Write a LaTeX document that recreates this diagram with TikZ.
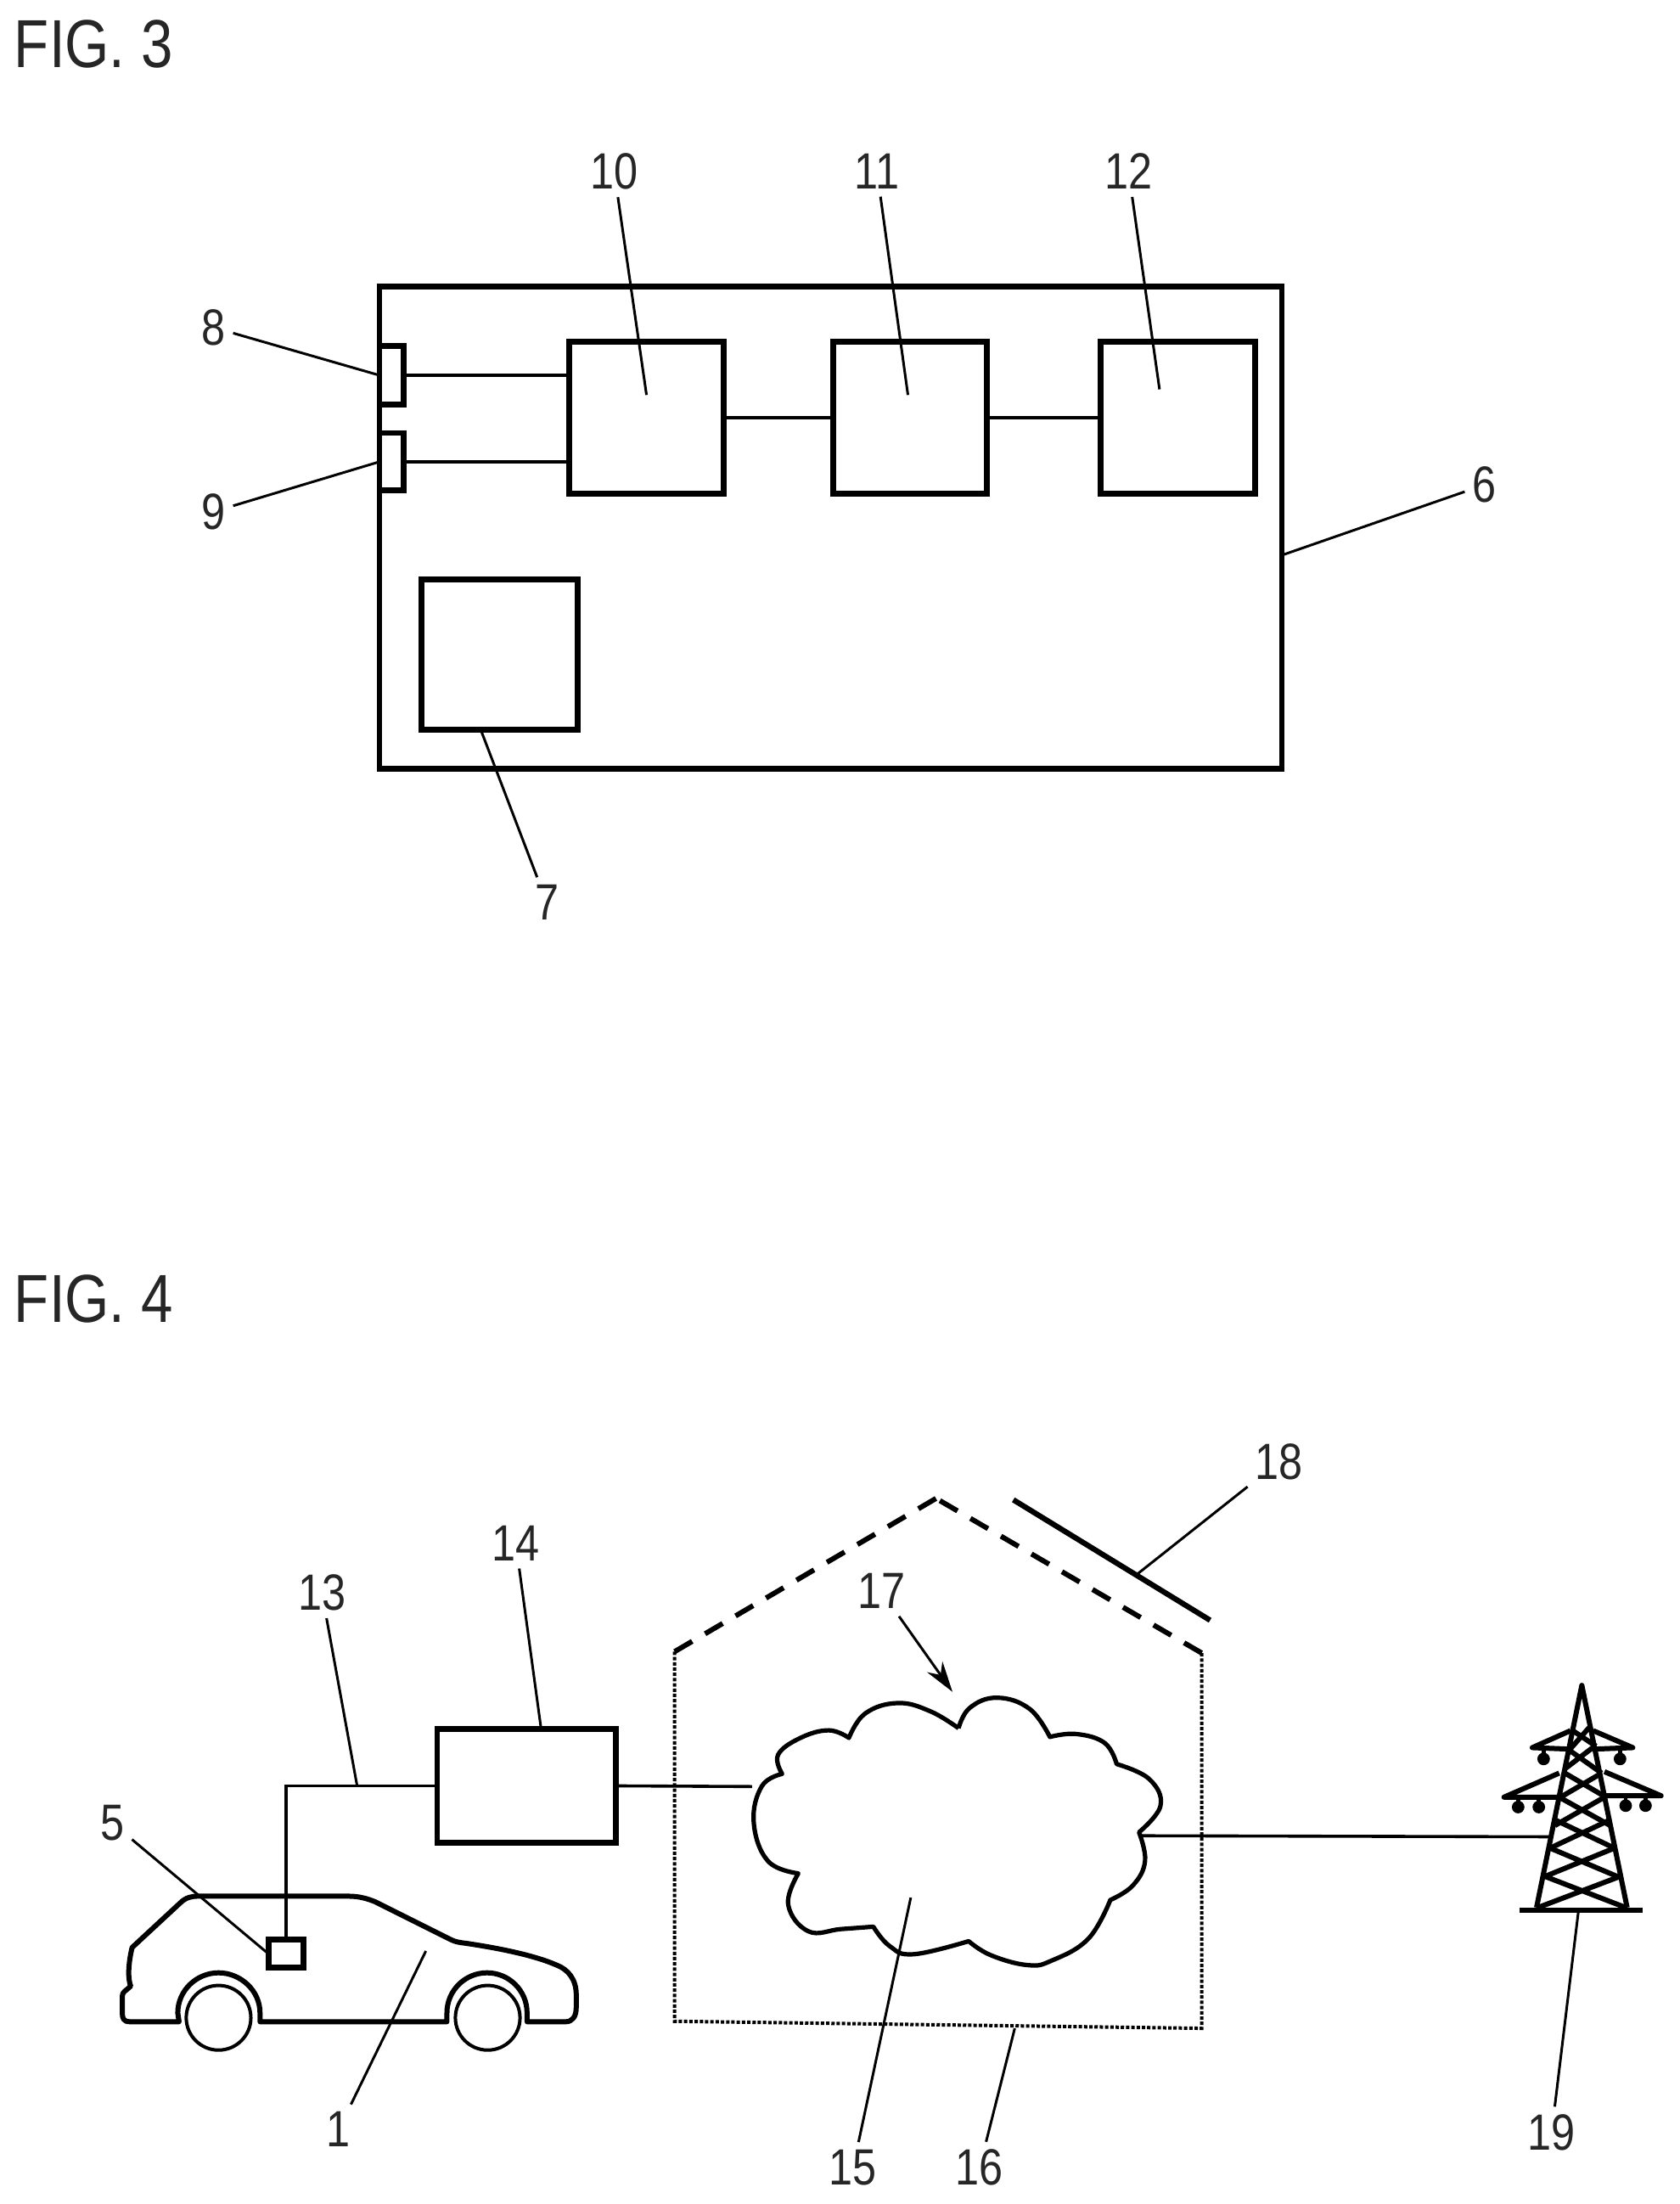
\documentclass[tikz,border=0pt]{standalone}
\usepackage{fontspec}
\setmainfont[FakeStretch=0.84]{Liberation Sans}
\usetikzlibrary{arrows.meta}
\tikzset{
  boxn/.style 2 args={draw=black,line width=3.4pt,inner sep=0pt,outer sep=0pt,minimum width=#1*0.8278pt,minimum height=#2*0.8278pt},
  conn/.style={line width=1.8pt},
  lead/.style={line width=1.5pt},
  lab/.style={font=\fontsize{30}{32}\selectfont,inner sep=1pt,outer sep=3.5pt,text=black!85},
  figl/.style={font=\fontsize{40}{44}\selectfont,inner sep=0pt,anchor=base west,text=black!85},
  thick3/.style={line width=3pt,line join=round,line cap=round},
  roof/.style={line width=3pt,dash pattern=on 12pt off 8.8pt},
  wall/.style={line width=2pt,dash pattern=on 2pt off 1.1pt},
  twr/.style={line width=3pt,line join=round}
}
\begin{document}
\begin{tikzpicture}[x=0.8278pt,y=-0.8278pt]
\useasboundingbox (0,0) rectangle (1194.76,1568);
\fill[white] (0,0) rectangle (1194.76,1568);
% titles
\node[figl] (fig3) at (10,48.3) {FIG. 3};
\node[figl] (fig4) at (10,941) {FIG. 4};
% FIG 3
\node[boxn={642}{343}] (b6) at (591,375.5) {};
\node[boxn={17}{42}] (s8) at (278.5,267) {};
\node[boxn={17}{41}] (s9) at (278.5,328.5) {};
\node[boxn={110}{108}] (b10) at (460,297) {};
\node[boxn={109}{108}] (b11) at (647.5,297) {};
\node[boxn={110}{108}] (b12) at (838,297) {};
\node[boxn={111}{107}] (b7) at (355.5,465.5) {};
\draw[conn] (s8.east) -- (s8.east -| b10.west);
\draw[conn] (s9.east) -- (s9.east -| b10.west);
\draw[conn] (b10.east) -- (b11.west);
\draw[conn] (b11.east) -- (b12.west);
% labels fig 3
\node[lab] (l10) at (437,122) {10};
\node[lab] (l11) at (624,122) {11};
\node[lab] (l12) at (803,122) {12};
\node[lab] (l8) at (152,233) {8};
\node[lab] (l9) at (152,364) {9};
\node[lab] (l6) at (1056,345) {6};
\node[lab] (l7) at (389,642) {7};
\coordinate (t10) at (460,281);
\coordinate (t11) at (646,281);
\coordinate (t12) at (825,277);
\draw[lead] (l10) -- (t10);
\draw[lead] (l11) -- (t11);
\draw[lead] (l12) -- (t12);
\draw[lead] (l8) -- (s8.west);
\draw[lead] (l9) -- (s9.west);
\coordinate (t6) at (912,395);
\coordinate (t7) at (342,519);
\draw[lead] (l6) -- (t6);
\draw[lead] (l7) -- (t7);
% FIG 4 car
\draw[thick3] (127.4,1438.3) -- (92.4,1438.3) .. controls (88,1438.3) and (87,1436) .. (87,1432)
  -- (87,1420) .. controls (87,1417) and (90,1416) .. (93,1413)
  .. controls (91,1408) and (91,1398) .. (94,1385.5)
  -- (128,1354) .. controls (132,1350) and (136,1349) .. (141,1349)
  -- (248,1349) .. controls (256,1349) and (262,1351) .. (267,1353)
  -- (321,1380) .. controls (324,1381.5) and (327,1382) .. (331.5,1382.5)
  .. controls (355,1386) and (380,1391) .. (396,1398)
  .. controls (404,1401) and (410,1408) .. (410,1419)
  -- (410,1428) .. controls (410,1435) and (407,1438.3) .. (402.6,1438.3)
  -- (375,1438.3) -- (375,1432)
  .. controls (375,1416) and (362,1403.5) .. (346.5,1403.5)
  .. controls (331,1403.5) and (318,1416) .. (318,1432)
  -- (318,1438.3) -- (185,1438.3) -- (185,1432)
  .. controls (185,1416) and (171,1403.5) .. (155.5,1403.5)
  .. controls (140,1403.5) and (126.5,1416) .. (126.5,1432)
  -- (127.4,1438.3) -- cycle;
\draw[line width=2pt] (155.5,1435.5) circle[radius=23];
\draw[line width=2pt] (347,1435.5) circle[radius=23];
% boxes
\node[boxn={25}{20}] (b5) at (203.5,1390) {};
\node[boxn={127}{81}] (b14) at (374.5,1270.5) {};
\draw[conn] (b14.west) -| (b5.north);
% house
\coordinate (hl) at (480,1175);
\coordinate (ha) at (666,1066);
\coordinate (hr) at (855,1176);
\coordinate (hbl) at (480,1438);
\coordinate (hbr) at (855,1443);
\draw[roof] (hl) -- (ha);
\draw[roof] (hr) -- (ha);
\draw[wall] (hl) -- (hbl) -- (hbr) -- (hr);
\coordinate (p1) at (721,1067);
\coordinate (p2) at (861,1152.7);
\draw[line width=3.2pt] (p1) -- (p2);
% cloud
\draw[line width=2.6pt,line join=round]
 plot[smooth,tension=0.7] coordinates {(682,1229.5) (690,1215) (709.4,1207.8) (732.5,1215.7) (747,1235.7)}
 -- plot[smooth,tension=0.7] coordinates {(747,1235.7) (765.6,1233.6) (786,1240) (794.5,1255)}
 -- plot[smooth,tension=0.7] coordinates {(794.5,1255) (817.6,1265.6) (825.7,1284.6) (810.4,1303.5)}
 -- plot[smooth,tension=0.7] coordinates {(810.4,1303.5) (814.7,1324) (806,1341.4) (790,1351.7)}
 -- plot[smooth,tension=0.7] coordinates {(790,1351.7) (774.3,1379.3) (748.3,1394.8) (731,1398) (705,1391) (689.2,1381)}
 -- plot[smooth,tension=0.7] coordinates {(689.2,1381) (650,1390.3) (633,1384.5) (621.4,1370.7)}
 -- plot[smooth,tension=0.7] coordinates {(621.4,1370.7) (598.3,1372.4) (575.2,1374) (560.8,1355) (568,1332.8)}
 -- plot[smooth,tension=0.7] coordinates {(568,1332.8) (546.4,1324) (536.3,1296.6) (542,1270.8) (556.5,1262)}
 -- plot[smooth,tension=0.7] coordinates {(556.5,1262) (553.6,1248.4) (569.5,1236.4) (589.7,1231) (604,1236.4)}
 -- plot[smooth,tension=0.7] coordinates {(604,1236.4) (615.6,1219) (638.7,1211.6) (661.8,1217.4) (682,1229.5)};
\coordinate (cl) at (535,1271);
\coordinate (cr) at (812,1306);
\draw[conn] (b14.east) -- (cl);
% tower
\begin{scope}[shift={(1026.8,1183.9)},x=0.1667pt,y=-0.1667pt]
  \draw[twr] (330,860) -- (490,75) -- (650,860);
  \draw[line width=3.2pt] (270,870) -- (705,870);
  \coordinate (tw) at (378,610);
  \draw[twr] (410,470) -- (590,570) (570,470) -- (395,570);
  \draw[twr] (395,550) -- (605,650) (590,550) -- (378,650);
  \draw[twr] (378,650) -- (615,750) (605,650) -- (360,750);
  \draw[twr] (360,750) -- (645,860) (625,750) -- (335,860);
  \draw[twr] (430,385) -- (575,470) (560,385) -- (415,470);
  \draw[twr] (440,300) -- (560,385) (535,290) -- (430,370);
  \draw[twr] (458,235) -- (540,290) (515,225) -- (440,310);
  % arms
  \draw[twr] (450,235) -- (315,295) -- (440,300);
  \draw[twr] (530,235) -- (670,295) -- (540,300);
  \draw[twr] (410,385) -- (215,470) -- (410,470);
  \draw[twr] (570,380) -- (770,465) -- (570,465);
  % insulators
  \foreach \ix/\iy in {355/335,625/335,265/505,338/505,645/500,715/500}{
    \fill (\ix,\iy) circle[radius=3.7pt];
    \draw[line width=2.4pt] (\ix,\iy) -- (\ix,\iy-30);
  }
\end{scope}
\draw[conn] (cr) -- (tw);
% labels fig 4
\node[lab] (l13) at (229,1133) {13};
\node[lab] (l14) at (367,1098) {14};
\node[lab] (l5) at (80,1297) {5};
\node[lab] (l1) at (241,1515) {1};
\node[lab] (l17) at (627,1132) {17};
\node[lab] (l18) at (910,1040) {18};
\node[lab] (l15) at (607,1542) {15};
\node[lab] (l16) at (697,1542) {16};
\node[lab] (l19) at (1104,1517) {19};
\coordinate (t13) at (254,1270);
\coordinate (t14) at (385,1230);
\coordinate (t1) at (303,1388);
\coordinate (t15) at (648,1350);
\coordinate (t16) at (722,1443);
\coordinate (t18) at (809,1120);
\coordinate (t19) at (1123,1360);
\coordinate (a17) at (677.7,1203.6);
\draw[lead] (l13) -- (t13);
\draw[lead] (l14) -- (t14);
\draw[lead] (l5) -- (b5.west);
\draw[lead] (l1) -- (t1);
\draw[lead] (l15) -- (t15);
\draw[lead] (l16) -- (t16);
\draw[lead] (l18) -- (t18);
\draw[lead] (l19) -- (t19);
\draw[lead,-{Stealth[length=18pt,width=11pt]}] (l17) -- (a17);
\end{tikzpicture}
\end{document}
